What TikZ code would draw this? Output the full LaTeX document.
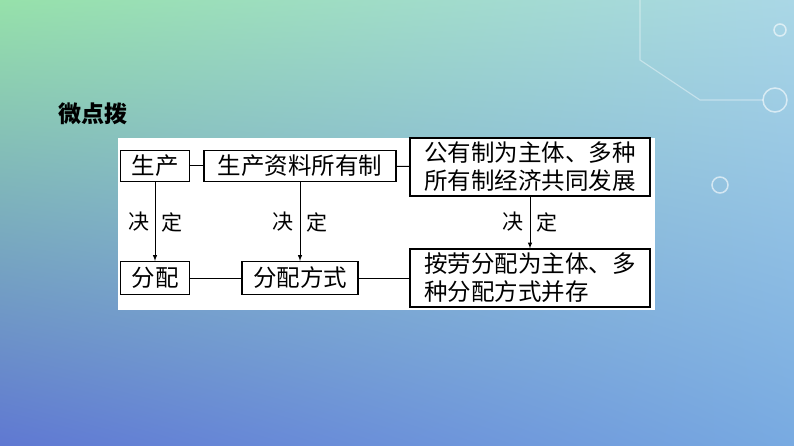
\documentclass[tikz,border=0pt]{standalone}
\usepackage{fontspec}
\usetikzlibrary{shadings}
\setmainfont{Noto Sans CJK SC}
\begin{document}
\begin{tikzpicture}[x=1pt,y=-1pt,
  bx/.style={draw=black,line width=1.2pt,fill=white,inner sep=0pt,font=\fontsize{23.5}{28}\selectfont,align=left},
  ln/.style={line width=1pt},
  ar/.style={line width=1pt,-latex},
  lb/.style={font=\fontsize{21}{24}\selectfont}]
\definecolor{tl}{RGB}{150,225,170}
\definecolor{tr}{RGB}{170,215,230}
\definecolor{bl}{RGB}{95,120,210}
\definecolor{br}{RGB}{120,170,225}
\shade[upper left=tl, upper right=tr, lower left=bl, lower right=br] (0,0) rectangle (794,446);
\useasboundingbox (0,0) rectangle (794,446);
\foreach \p/\r in {{(775,100)/12},{(720,185)/8},{(780,30)/6}} \draw[white,opacity=0.6,line width=1.5pt] \p circle (\r);
\draw[white,opacity=0.4,line width=1.2pt] (640,0)--(640,60)--(700,100)--(763,100);
\node[anchor=west,font=\fontsize{23}{26}\selectfont\bfseries] (t) at (55,114) {微点拨};
\fill[white] (118,138) rectangle (655,310);
\node[bx,minimum width=69,minimum height=31] (a) at (155,166) {生产};
\node[bx,minimum width=192,minimum height=31] (b) at (300,166) {生产资料所有制};
\node[bx,minimum width=240,minimum height=58] (c) at (530,167) {公有制为主体、多种\\所有制经济共同发展};
\node[bx,minimum width=69,minimum height=33] (d) at (155,278) {分配};
\node[bx,minimum width=116,minimum height=33] (e) at (300,278) {分配方式};
\node[bx,minimum width=240,minimum height=58] (f) at (530,278) {按劳分配为主体、多\\种分配方式并存};
\draw[ln] (a)--(b); \draw[ln] (b)--(c); \draw[ln] (d)--(e); \draw[ln] (e)--(f);
\draw[ar] (a)--(d); \draw[ar] (b)--(e); \draw[ar] (c)--(f);
\node[lb] (l1) at (139,222) {决}; \node[lb] (r1) at (172,222) {定};
\node[lb] (l2) at (283,222) {决}; \node[lb] (r2) at (317,222) {定};
\node[lb] (l3) at (513,222) {决}; \node[lb] (r3) at (547,222) {定};
\end{tikzpicture}
\end{document}
